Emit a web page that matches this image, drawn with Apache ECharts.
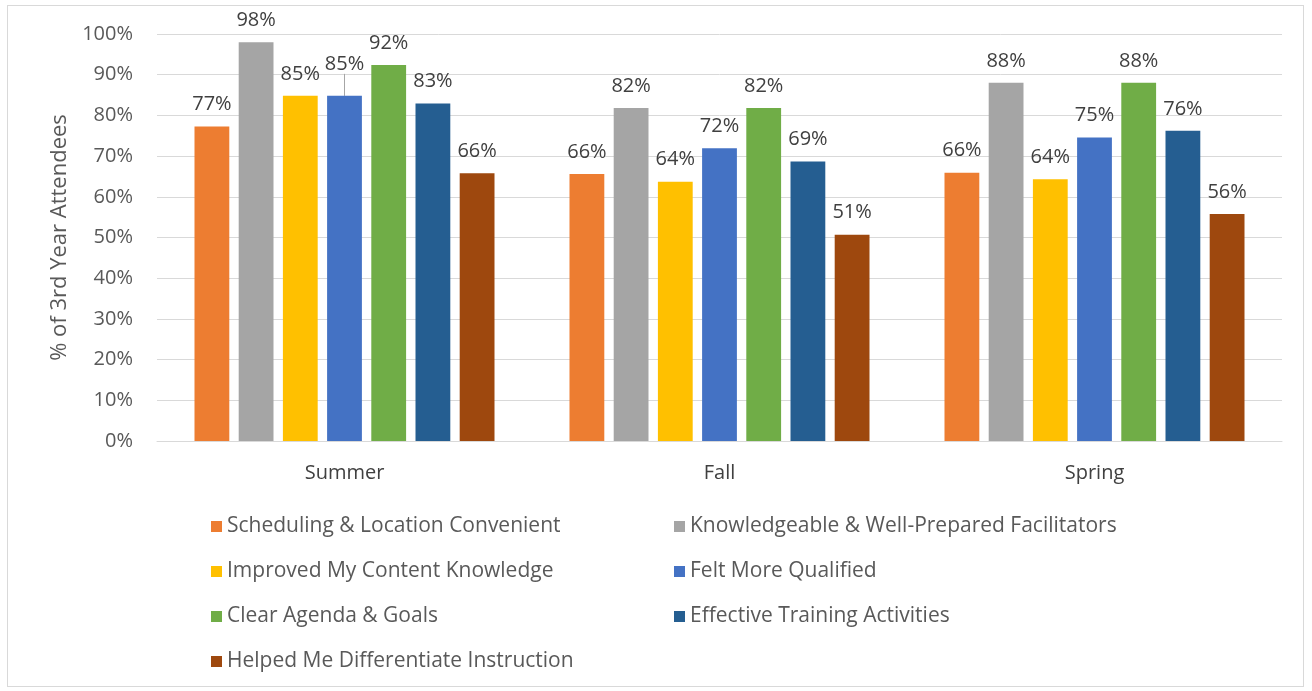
<!DOCTYPE html>
<html>
<head>
<meta charset="utf-8">
<title>3rd Year Attendees</title>
<script src="https://cdn.jsdelivr.net/npm/echarts@6/dist/echarts.min.js"></script>
<style>
  html, body { margin: 0; padding: 0; background: #fff; }
  #frame { position: absolute; left: 7px; top: 5px; width: 1297px; height: 682px; border: 1px solid #d9d9d9; box-sizing: border-box; }
  #chart { width: 1312px; height: 691px; }
</style>
</head>
<body>
<div id="frame"></div>
<div id="chart"></div>
<script>
  // 数据
  var seasons = ['Summer', 'Fall', 'Spring'];
  var seriesNames = [
    'Scheduling & Location Convenient',
    'Knowledgeable & Well-Prepared Facilitators',
    'Improved My Content Knowledge',
    'Felt More Qualified',
    'Clear Agenda & Goals',
    'Effective Training Activities',
    'Helped Me Differentiate Instruction'
  ];
  var scheduling    = [77.3, 65.6, 65.9];
  var knowledgeable = [98.0, 81.8, 88.0];
  var improved      = [84.8, 63.7, 64.3];
  var qualified     = [84.8, 71.9, 74.6];
  var agenda        = [92.4, 81.8, 88.0];
  var effective     = [82.9, 68.7, 76.2];
  var differentiate = [65.8, 50.7, 55.8];
  var colors = ['#ED7D31', '#A5A5A5', '#FFC000', '#4472C4', '#70AD47', '#255E91', '#9E480E'];

  var allData = [scheduling, knowledgeable, improved, qualified, agenda, effective, differentiate];

  var chart = echarts.init(document.getElementById('chart'), null, { renderer: 'canvas' });

  var series = [];
  for (var i = 0; i < allData.length; i++) {
    var data = allData[i].slice();
    var s = {
      name: seriesNames[i],
      type: 'bar',
      data: data,
      barGap: '27%',
      barCategoryGap: '20%',
      itemStyle: { color: colors[i] },
      label: {
        show: true,
        position: 'top',
        distance: 12,
        color: '#404040',
        fontSize: 20,
        fontFamily: 'Open Sans',
        formatter: function (p) { return Math.round(p.value) + '%'; }
      }
    };
    if (i === 3) {
      // Summer "Felt More Qualified" label sits higher, with a leader line
      data[0] = {
        value: data[0],
        labelLine: { show: true, lineStyle: { color: '#a6a6a6', width: 1 } }
      };
      s.labelLayout = function (params) {
        if (params.dataIndex === 0) {
          return { dy: -10 };
        }
      };
    }
    series.push(s);
  }

  var legendText = { color: '#595959', fontSize: 21, fontFamily: 'Open Sans' };

  chart.setOption({
    animation: false,
    color: colors,
    grid: { left: 157, right: 30, top: 34, bottom: 250 },
    legend: [
      {
        data: [seriesNames[0], seriesNames[2], seriesNames[4], seriesNames[6]],
        orient: 'vertical',
        left: 206, top: 511,
        itemWidth: 11, itemHeight: 11, itemGap: 24,
        icon: 'rect',
        textStyle: legendText
      },
      {
        data: [seriesNames[1], seriesNames[3], seriesNames[5]],
        orient: 'vertical',
        left: 669, top: 511,
        itemWidth: 11, itemHeight: 11, itemGap: 24,
        icon: 'rect',
        textStyle: legendText
      }
    ],
    xAxis: {
      type: 'category',
      data: seasons,
      axisTick: { show: false },
      axisLine: { lineStyle: { color: '#d9d9d9', width: 1 } },
      axisLabel: { color: '#404040', fontSize: 20, fontFamily: 'Open Sans', margin: 22 }
    },
    yAxis: {
      type: 'value',
      min: 0, max: 100, interval: 10,
      name: '% of 3rd Year Attendees',
      nameLocation: 'middle',
      nameGap: 86,
      nameTextStyle: { color: '#595959', fontSize: 22, fontFamily: 'Open Sans' },
      axisLine: { show: false },
      axisTick: { show: false },
      splitLine: { lineStyle: { color: '#d9d9d9', width: 1 } },
      axisLabel: { color: '#595959', fontSize: 20, fontFamily: 'Open Sans', margin: 24, formatter: '{value}%' }
    },
    series: series
  });
</script>
</body>
</html>
